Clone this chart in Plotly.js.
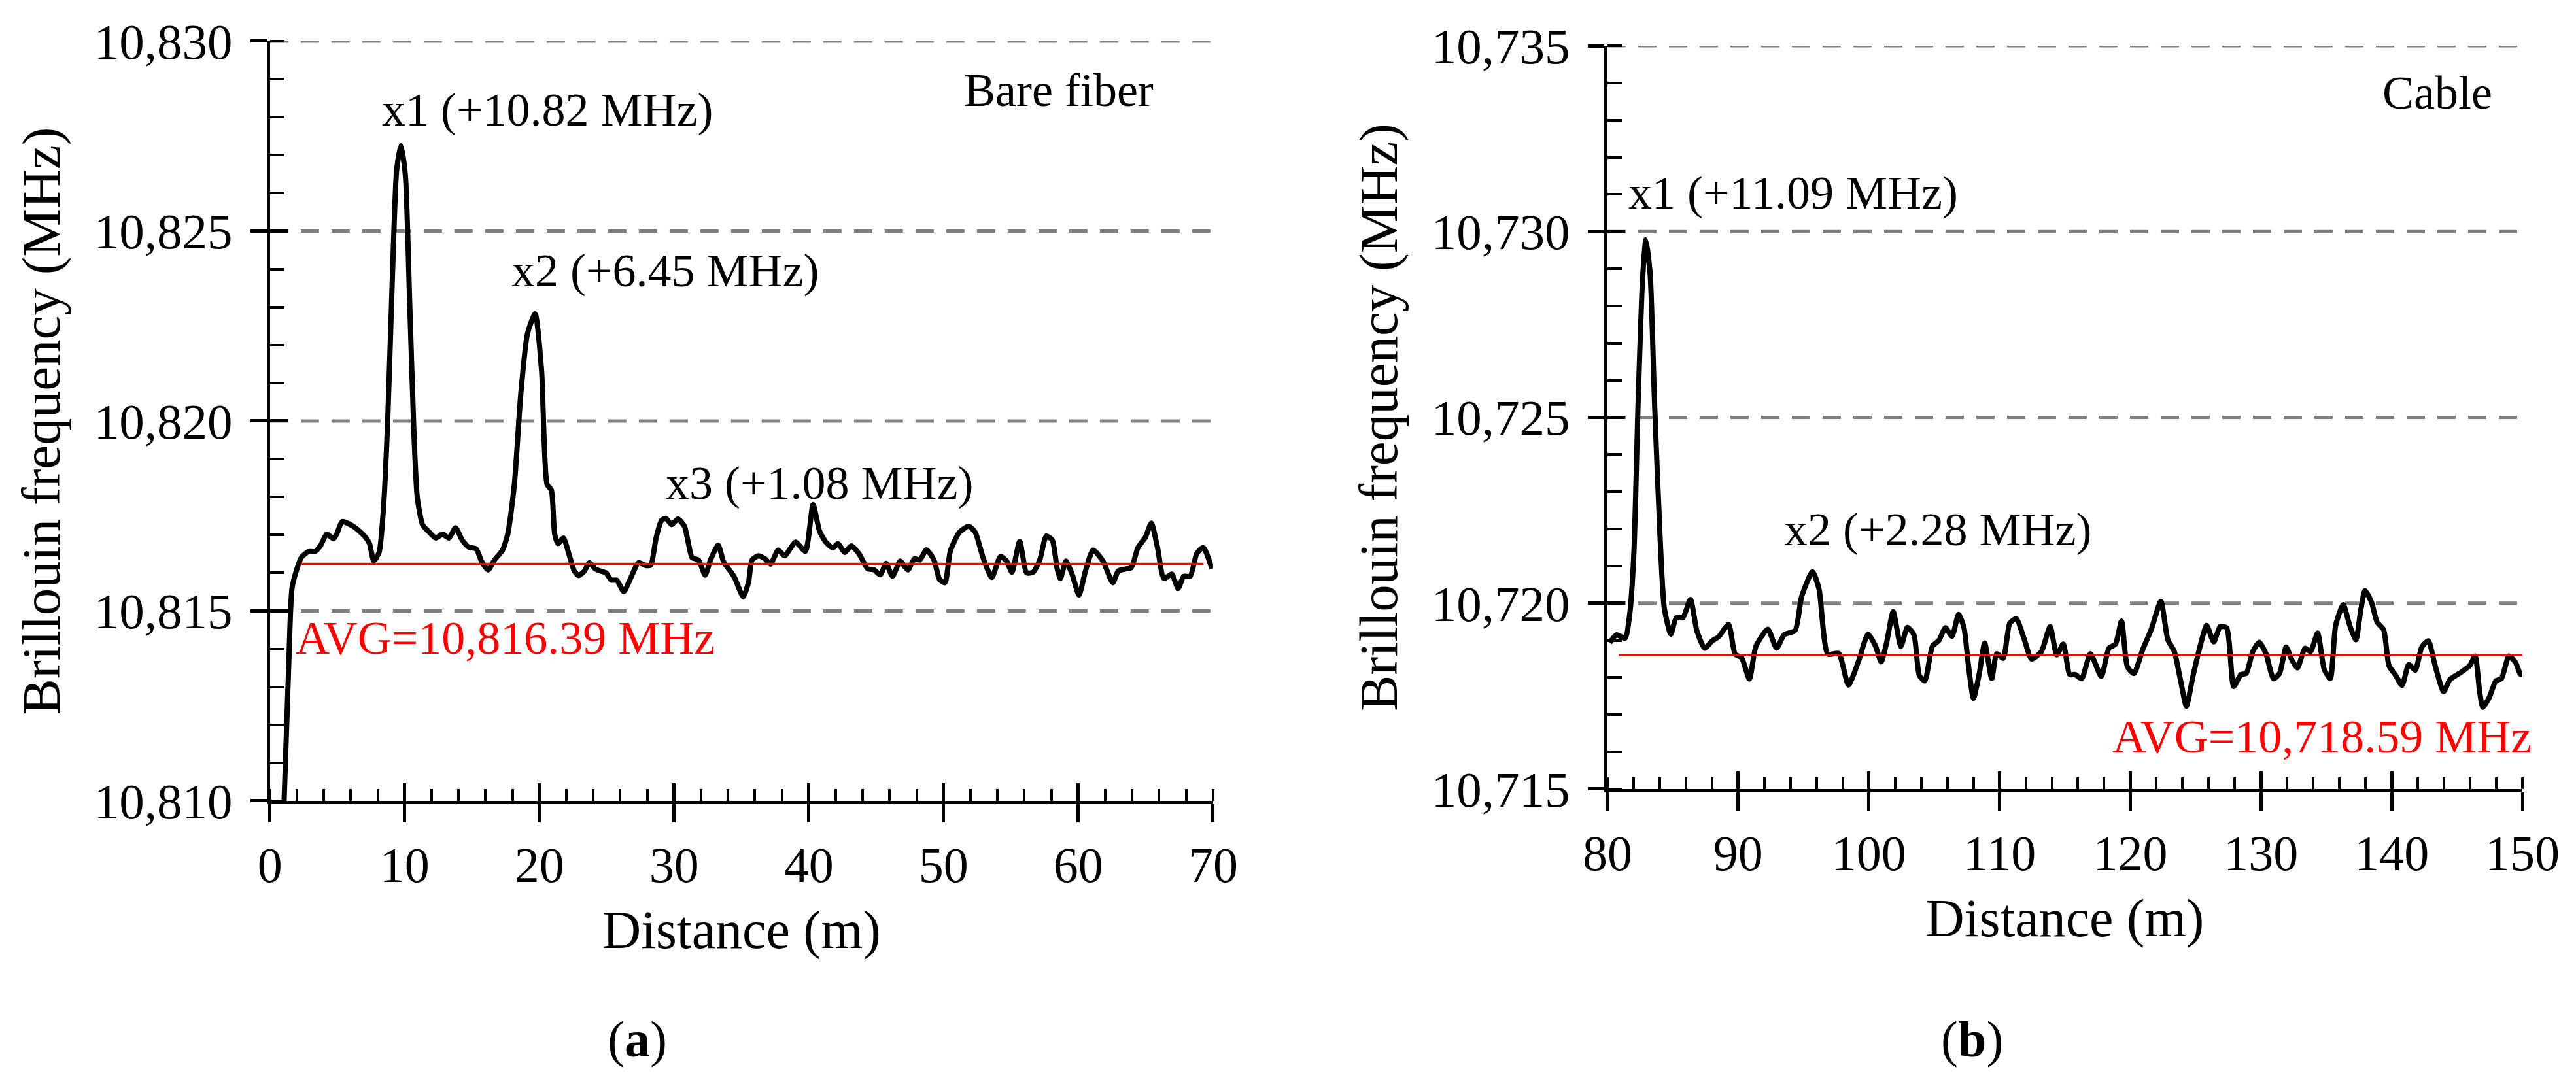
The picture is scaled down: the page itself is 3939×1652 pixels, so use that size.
<!DOCTYPE html>
<html>
<head>
<meta charset="utf-8">
<script src="https://cdn.plot.ly/plotly-3.0.1.min.js"></script>
<style>
  html, body { margin: 0; padding: 0; background: #fff; }
  #chart { width: 3939px; height: 1652px; }
</style>
</head>
<body>
<div id="chart"></div>
<script>
// (a) bare fiber, distance (m) and Brillouin frequency (MHz)
const distA = [
  1.05, 1.39, 1.63, 1.96, 2.36, 2.85, 3.33, 3.74, 4.22, 4.71, 4.95, 5.36, 6.17, 6.97, 7.38, 7.7,
  8.1, 8.43, 8.75, 9.08, 9.4, 9.72, 10.05, 10.37, 10.7, 10.94, 11.34, 11.83, 12.31, 12.8, 13.29,
  13.77, 14.26, 14.74, 15.31, 15.71, 16.2, 16.68, 17.25, 17.65, 18.14, 18.62, 19.11, 19.68, 20.16,
  20.57, 20.89, 21.13, 21.38, 21.78, 22.18, 22.59, 22.91, 23.32, 23.72, 24.13, 24.53, 24.94, 25.34,
  25.74, 26.26, 26.72, 27.36, 27.85, 28.25, 28.66, 29.06, 29.38, 29.82, 30.28, 30.76, 31.08, 31.33,
  31.81, 32.3, 32.7, 33.27, 33.67, 34.16, 34.48, 35.13, 35.53, 35.78, 36.26, 36.75, 37.15, 37.72,
  38.2, 39.01, 39.74, 40.31, 40.8, 41.29, 41.77, 42.17, 42.66, 43.14, 43.71, 44.36, 44.84, 45.3,
  45.73, 46.21, 46.78, 47.35, 47.83, 48.24, 48.72, 49.29, 49.7, 50.1, 50.5, 51.15, 51.87, 52.36,
  52.93, 53.58, 54.22, 54.68, 55.07, 55.65, 56.17, 56.65, 57.14, 57.62, 58.07, 58.43, 58.67, 59.08,
  59.56, 60.05, 60.53, 61.1, 61.83, 62.56, 62.96, 63.45, 63.93, 64.42, 64.98, 65.42, 65.87, 66.36,
  66.93, 67.41, 67.82, 68.3, 68.79, 69.27, 69.92
]
const freqA = [
  10810.0, 10813.55, 10815.58, 10816.06, 10816.42, 10816.56, 10816.56, 10816.71, 10817.02, 10816.9,
  10817.02, 10817.35, 10817.23, 10816.99, 10816.78, 10816.32, 10816.54, 10817.73, 10820.12, 10823.72,
  10826.59, 10827.25, 10826.47, 10823.12, 10819.54, 10817.97, 10817.26, 10817.07, 10816.92, 10817.02,
  10816.92, 10817.19, 10816.87, 10816.68, 10816.63, 10816.3, 10816.08, 10816.35, 10816.59, 10817.02,
  10818.33, 10820.72, 10822.29, 10822.82, 10821.33, 10818.33, 10818.18, 10817.03, 10816.77, 10816.92,
  10816.51, 10816.05, 10815.93, 10816.04, 10816.27, 10816.11, 10816.05, 10816.0, 10815.81, 10815.81,
  10815.51, 10815.82, 10816.27, 10816.2, 10816.2, 10816.92, 10817.38, 10817.44, 10817.27, 10817.42,
  10817.23, 10816.74, 10816.4, 10816.34, 10815.94, 10816.34, 10816.73, 10816.29, 10816.05, 10815.88,
  10815.37, 10815.77, 10816.34, 10816.45, 10816.37, 10816.23, 10816.6, 10816.45, 10816.81, 10816.57,
  10817.8, 10817.09, 10816.8, 10816.66, 10816.77, 10816.54, 10816.71, 10816.51, 10816.11, 10816.08,
  10815.95, 10816.25, 10815.91, 10816.31, 10816.08, 10816.37, 10816.34, 10816.61, 10816.34, 10815.83,
  10815.74, 10816.57, 10817.06, 10817.23, 10817.06, 10816.4, 10815.88, 10816.43, 10816.31, 10816.02,
  10816.83, 10816.0, 10816.02, 10816.34, 10816.97, 10816.86, 10816.11, 10815.85, 10816.31, 10815.94,
  10815.42, 10816.05, 10816.6, 10816.31, 10815.74, 10816.05, 10816.1, 10816.14, 10816.66, 10816.94,
  10817.31, 10816.68, 10815.85, 10815.97, 10815.59, 10815.91, 10815.91, 10816.51, 10816.67, 10816.11
]
const avgSpanA = [2.3, 69.3]
const avgA = 10816.24
const gridA = [10815, 10820, 10825, 10830]

// (b) cable
const distB = [
  80.18, 80.69, 81.35, 81.69, 82.02, 82.35, 82.69, 82.94, 83.27, 83.6, 84.02, 84.35, 84.85, 85.27,
  85.77, 86.35, 86.85, 87.44, 88.02, 88.52, 89.27, 89.77, 90.27, 90.86, 91.36, 92.27, 92.94, 93.52,
  94.36, 94.86, 95.69, 96.19, 96.86, 97.69, 98.44, 99.19, 99.94, 100.52, 100.94, 101.36, 101.86,
  102.45, 102.95, 103.45, 103.86, 104.28, 104.86, 105.36, 105.86, 106.36, 106.86, 107.28, 107.61,
  108.0, 108.45, 108.86, 109.4, 109.78, 110.28, 110.78, 111.28, 111.87, 112.45, 113.2, 113.87,
  114.37, 114.87, 115.37, 115.78, 116.28, 116.95, 117.78, 118.37, 118.87, 119.33, 119.78, 120.28,
  120.96, 121.62, 122.34, 122.87, 123.37, 123.87, 124.29, 124.79, 125.37, 125.84, 126.39, 126.87,
  127.37, 127.91, 128.46, 128.87, 129.37, 129.87, 130.37, 130.96, 131.42, 131.92, 132.37, 132.79,
  133.37, 133.79, 134.33, 134.83, 135.3, 135.71, 136.29, 136.79, 137.26, 137.63, 137.96, 138.46,
  138.88, 139.38, 139.79, 140.3, 140.79, 141.3, 141.8, 142.3, 142.8, 143.3, 143.97, 144.44, 145.3,
  145.97, 146.38, 146.72, 146.97, 147.47, 147.97, 148.39, 148.97, 149.47, 149.88, 150.36
]
const freqB = [
  10718.94, 10719.15, 10719.06, 10719.66, 10721.31, 10725.44, 10728.74, 10729.78, 10728.85, 10725.44,
  10721.83, 10719.87, 10719.17, 10719.61, 10719.61, 10720.1, 10719.25, 10718.79, 10718.99, 10719.1,
  10719.43, 10718.63, 10718.53, 10717.96, 10718.84, 10719.3, 10718.79, 10719.15, 10719.27, 10720.18,
  10720.85, 10720.38, 10718.63, 10718.65, 10717.8, 10718.42, 10719.17, 10718.84, 10718.42, 10718.94,
  10719.77, 10718.84, 10719.35, 10719.15, 10718.06, 10717.91, 10718.84, 10719.0, 10719.34, 10719.11,
  10719.7, 10719.34, 10718.35, 10717.44, 10718.11, 10718.93, 10717.97, 10718.64, 10718.52, 10719.46,
  10719.58, 10719.05, 10718.5, 10718.7, 10719.37, 10718.61, 10718.9, 10718.08, 10718.08, 10717.97,
  10718.64, 10718.03, 10718.79, 10718.9, 10719.52, 10718.29, 10718.11, 10718.76, 10719.31, 10720.05,
  10719.02, 10718.7, 10717.88, 10717.23, 10718.03, 10718.88, 10719.4, 10718.96, 10719.37, 10719.34,
  10717.76, 10718.08, 10718.11, 10718.7, 10718.95, 10718.65, 10717.97, 10718.11, 10718.82, 10718.47,
  10718.26, 10718.79, 10718.7, 10719.2, 10718.23, 10717.97, 10719.4, 10719.96, 10719.4, 10719.02,
  10719.81, 10720.34, 10720.02, 10719.49, 10719.29, 10718.32, 10718.06, 10717.79, 10718.35, 10718.2,
  10718.82, 10718.99, 10718.35, 10717.62, 10717.94, 10718.14, 10718.32, 10718.58, 10717.64, 10717.2,
  10717.47, 10717.91, 10717.97, 10718.58, 10718.41, 10718.08, 10718.23
]
const avgSpanB = [80.9, 151]
const avgB = 10718.6
const gridB = [10720, 10725, 10730, 10735]

const serif = "Liberation Serif, Times New Roman, serif"
const black = "#000"
const grey = "#808080"

function curve(x, y, xa, ya) {
  return {
    x: x, y: y, xaxis: xa, yaxis: ya, type: "scatter", mode: "lines",
    line: { color: black, width: 8, shape: "spline", smoothing: 0.6 },
    hoverinfo: "skip", showlegend: false,
  }
}

function avgLine(span, v, xa, ya) {
  return {
    x: span, y: [v, v], xaxis: xa, yaxis: ya, type: "scatter", mode: "lines",
    line: { color: "#ff0000", width: 3.5 },
    hoverinfo: "skip", showlegend: false,
  }
}

// empty trace so the tick-only overlay axes get drawn
function blank(xa, ya) {
  return { x: [], y: [], xaxis: xa, yaxis: ya, type: "scatter", mode: "lines", showlegend: false, hoverinfo: "skip" }
}

function xMain(domain, range, anchor) {
  return {
    domain: domain, range: range, autorange: false, anchor: anchor,
    showline: true, linecolor: black, linewidth: 5,
    ticks: "outside", ticklen: 28, tickwidth: 5, tickcolor: black,
    dtick: 10, tick0: 0,
    minor: { dtick: 2, ticks: "inside", ticklen: 18, tickwidth: 4, tickcolor: black, showgrid: false },
    showgrid: false, zeroline: false,
    tickfont: { family: serif, size: 76, color: black },
    title: { text: "Distance (m)", font: { family: serif, size: 82, color: black }, standoff: 30 },
  }
}

function yMain(domain, range, anchor) {
  return {
    domain: domain, range: range, autorange: false, anchor: anchor,
    showline: true, linecolor: black, linewidth: 5,
    ticks: "outside", ticklen: 25, tickwidth: 5, tickcolor: black,
    dtick: 5, tick0: 0, tickformat: ",d", ticklabelstandoff: 12,
    minor: { dtick: 1, ticks: "inside", ticklen: 22, tickwidth: 4, tickcolor: black, showgrid: false },
    showgrid: false, zeroline: false,
    tickfont: { family: serif, size: 77, color: black },
    title: { text: "Brillouin frequency (MHz)", font: { family: serif, size: 83, color: black }, standoff: 26 },
  }
}

function inner(over, range, anchor, dtick) {
  return {
    overlaying: over, range: range, autorange: false, anchor: anchor,
    ticks: "inside", ticklen: 27, tickwidth: 5, tickcolor: black,
    dtick: dtick, tick0: 0, showticklabels: false, showline: false, showgrid: false, zeroline: false,
  }
}

// dashed grey guide lines across each panel
function grid(values, xa, ya) {
  return values.map((v) => ({
    type: "line", xref: xa + " domain", yref: ya, x0: 0, x1: 1, y0: v, y1: v,
    line: { color: grey, width: 5, dash: "28px,19px" }, layer: "below",
  }))
}

const xDomA = [0.1048, 0.4709]
const yDomA = [0.2585, 0.9619]
const xDomB = [0.624, 0.9792]
const yDomB = [0.2694, 0.9576]

function label(text, x, y, xa, ya, anchor, color, shift) {
  return {
    text: text, x: x, y: y, xref: xa, yref: ya, xanchor: anchor, yanchor: "middle",
    xshift: shift || 0,
    showarrow: false, font: { family: serif, size: 72, color: color || black },
  }
}

const data = [
  curve(distA, freqA, "x", "y"),
  avgLine(avgSpanA, avgA, "x", "y"),
  curve(distB, freqB, "x2", "y2"),
  avgLine(avgSpanB, avgB, "x2", "y2"),
  blank("x3", "y3"),
  blank("x4", "y4"),
]

const layout = {
  width: 3939, height: 1652,
  margin: { l: 0, r: 0, t: 0, b: 0 },
  paper_bgcolor: "#fff", plot_bgcolor: "rgba(0,0,0,0)",
  showlegend: false,
  xaxis: xMain(xDomA, [0, 70], "y"),
  yaxis: yMain(yDomA, [10810, 10830], "x"),
  xaxis2: xMain(xDomB, [80, 150], "y2"),
  yaxis2: yMain(yDomB, [10715, 10735], "x2"),
  xaxis3: inner("x", [0, 70], "y3", 10),
  yaxis3: inner("y", [10810, 10830], "x3", 5),
  xaxis4: inner("x2", [80, 150], "y4", 10),
  yaxis4: inner("y2", [10715, 10735], "x4", 5),
  shapes: grid(gridA, "x", "y").concat(grid(gridB, "x2", "y2")),
  annotations: [
    label("x1 (+10.82 MHz)", 8.2, 10828.2, "x", "y", "left"),
    label("x2 (+6.45 MHz)", 17.8, 10823.95, "x", "y", "left"),
    label("x3 (+1.08 MHz)", 29.3, 10818.36, "x", "y", "left"),
    label("Bare fiber", 65.7, 10828.7, "x", "y", "right"),
    label("AVG=10,816.39 MHz", 1.8, 10814.29, "x", "y", "left", "#ff0000"),
    label("x1 (+11.09 MHz)", 81.5, 10731.04, "x2", "y2", "left"),
    label("x2 (+2.28 MHz)", 93.4, 10721.98, "x2", "y2", "left"),
    label("Cable", 147.8, 10733.73, "x2", "y2", "right"),
    label("AVG=10,718.59 MHz", 150, 10716.41, "x2", "y2", "right", "#ff0000", 16),
    {
      text: "(<b>a</b>)", x: 974 / 3939, y: 1 - 1589 / 1652, xref: "paper", yref: "paper",
      xanchor: "center", yanchor: "middle", showarrow: false,
      font: { family: serif, size: 78, color: black },
    },
    {
      text: "(<b>b</b>)", x: 3015 / 3939, y: 1 - 1589 / 1652, xref: "paper", yref: "paper",
      xanchor: "center", yanchor: "middle", showarrow: false,
      font: { family: serif, size: 78, color: black },
    },
  ],
}

Plotly.newPlot("chart", data, layout, { staticPlot: true, displayModeBar: false })
</script>
</body>
</html>
